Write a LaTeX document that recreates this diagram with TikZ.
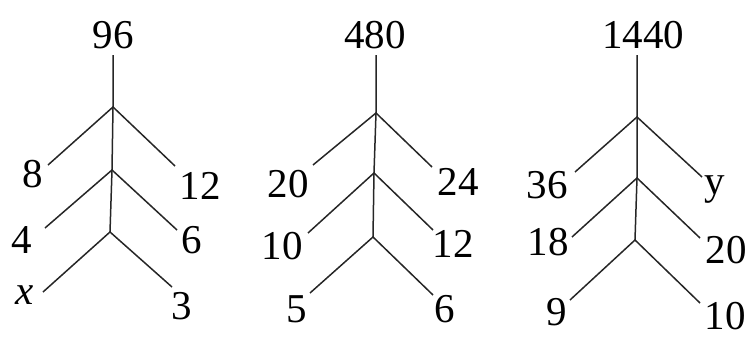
\documentclass[tikz,border=0pt]{standalone}
\usepackage{fontspec}
\setmainfont{Liberation Serif}
\begin{document}
\begin{tikzpicture}[x=1pt,y=-1pt,
  lbl/.style={inner sep=0pt,font=\fontsize{41}{41}\selectfont},
  br/.style={line width=1.5pt,draw=black!85}]
\useasboundingbox (0,0) rectangle (748,340);
% ---------- tree 1 ----------
\node[lbl] (r1) at (113,35) {96};
\coordinate (a0) at (113,55);
\coordinate (a1) at (113,107);
\coordinate (a2) at (112,170);
\coordinate (a3) at (110,232);
\coordinate (a1l) at (48,165);
\coordinate (a1r) at (175,166);
\coordinate (a2l) at (45,228);
\coordinate (a2r) at (177,230);
\coordinate (a3l) at (43,292);
\coordinate (a3r) at (172,287);
\node[lbl] (n8) at (33,174) {8};
\node[lbl] (n12a) at (200,186) {12};
\node[lbl] (n4) at (22,240) {4};
\node[lbl] (n6a) at (192,240) {6};
\node[lbl] (nx) at (25,295) {\itshape x};
\node[lbl] (n3) at (182,306) {3};
\draw[br] (a0) -- (a1) -- (a2) -- (a3);
\draw[br] (a1l) -- (a1) -- (a1r);
\draw[br] (a2l) -- (a2) -- (a2r);
\draw[br] (a3l) -- (a3) -- (a3r);
% ---------- tree 2 ----------
\node[lbl] (r2) at (375,35) {480};
\coordinate (b0) at (376,55);
\coordinate (b1) at (376,113);
\coordinate (b2) at (374,173);
\coordinate (b3) at (373,237);
\coordinate (b1l) at (313,165);
\coordinate (b1r) at (432,167);
\coordinate (b2l) at (308,233);
\coordinate (b2r) at (433,230);
\coordinate (b3l) at (310,293);
\coordinate (b3r) at (433,295);
\node[lbl] (n20a) at (288,184) {20};
\node[lbl] (n24) at (458,182) {24};
\node[lbl] (n10a) at (282,246) {10};
\node[lbl] (n12b) at (453,244) {12};
\node[lbl] (n5) at (297,309) {5};
\node[lbl] (n6b) at (445,309) {6};
\draw[br] (b0) -- (b1) -- (b2) -- (b3);
\draw[br] (b1l) -- (b1) -- (b1r);
\draw[br] (b2l) -- (b2) -- (b2r);
\draw[br] (b3l) -- (b3) -- (b3r);
% ---------- tree 3 ----------
\node[lbl] (r3) at (643,35) {1440};
\coordinate (c0) at (637,55);
\coordinate (c1) at (637,117);
\coordinate (c2) at (637,178);
\coordinate (c3) at (635,240);
\coordinate (c1l) at (575,172);
\coordinate (c1r) at (702,177);
\coordinate (c2l) at (572,237);
\coordinate (c2r) at (700,238);
\coordinate (c3l) at (570,300);
\coordinate (c3r) at (700,303);
\node[lbl] (n36) at (547,185) {36};
\node[lbl,anchor=base] (ny) at (715,194) {y};
\node[lbl] (n18) at (548,242) {18};
\node[lbl] (n20b) at (726,250) {20};
\node[lbl] (n9) at (557,312) {9};
\node[lbl] (n10b) at (725,316) {10};
\draw[br] (c0) -- (c1) -- (c2) -- (c3);
\draw[br] (c1l) -- (c1) -- (c1r);
\draw[br] (c2l) -- (c2) -- (c2r);
\draw[br] (c3l) -- (c3) -- (c3r);
\end{tikzpicture}
\end{document}
